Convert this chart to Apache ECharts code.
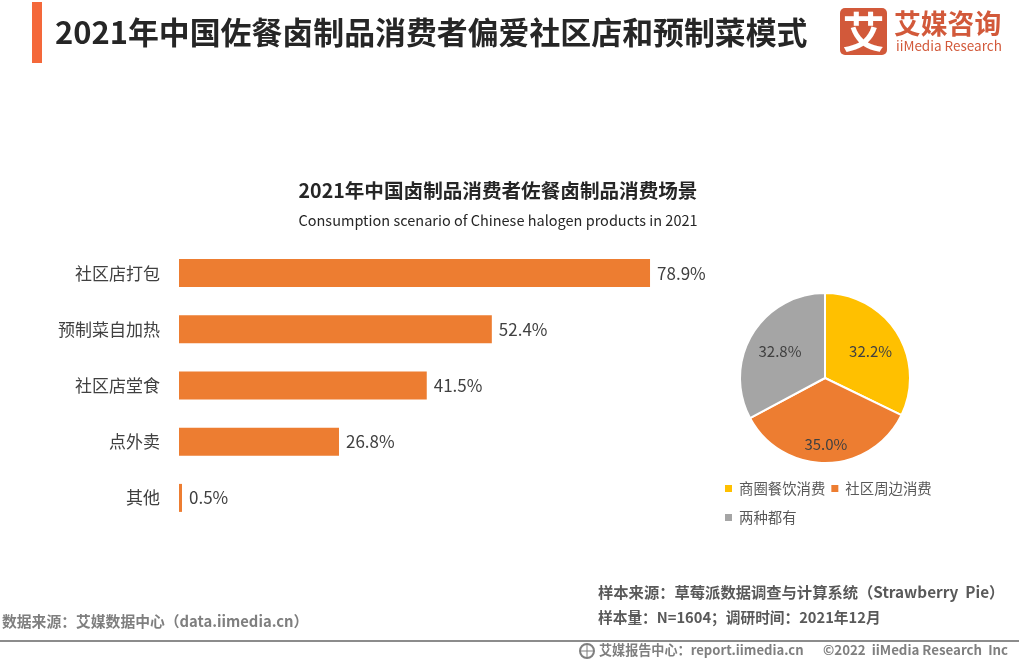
<!DOCTYPE html>
<html lang="zh">
<head>
<meta charset="UTF-8">
<title>2021年中国佐餐卤制品消费者偏爱社区店和预制菜模式</title>
<style>
  * { margin: 0; }
  html, body { height: 100%; background: #fff; }
  #chart { width: 1019px; height: 664px; }
</style>
<script src="https://cdn.jsdelivr.net/npm/echarts@6/dist/echarts.min.js"></script>
</head>
<body>
<div id="chart"></div>
<script>
const CN = '"Noto Sans CJK SC", sans-serif';

// bar chart
const sceneNames = ['社区店打包', '预制菜自加热', '社区店堂食', '点外卖', '其他'];
const sceneValues = [78.9, 52.4, 41.5, 26.8, 0.5];

// pie chart
const modeNames = ['商圈餐饮消费', '社区周边消费', '两种都有'];
const modeValues = [32.2, 35.0, 32.8];
const modeColors = ['#ffc000', '#ed7d31', '#a5a5a5'];
const modeLabelOffsets = [[7, -3], [0, 21], [-6, -3]];

function txt(x, y, text, size, color, weight, align) {
  return {
    type: 'text', x: x, y: y,
    style: { text: text, fontSize: size, fill: color, fontWeight: weight || 'normal', fontFamily: CN, align: align || 'left', verticalAlign: 'middle' }
  };
}

const chart = echarts.init(document.getElementById('chart'));
chart.setOption({
  animation: false,
  backgroundColor: '#fff',
  grid: { left: 179, top: 245, width: 597, height: 281 },
  xAxis: { type: 'value', min: 0, max: 100, show: false },
  yAxis: {
    type: 'category',
    data: sceneNames,
    inverse: true,
    axisLine: { show: false },
    axisTick: { show: false },
    axisLabel: { color: '#404040', fontSize: 17, fontFamily: CN, margin: 19 }
  },
  legend: {
    left: 718, top: 471, width: 240,
    data: modeNames,
    icon: 'rect',
    itemWidth: 9, itemHeight: 9, itemGap: 4,
    textStyle: { color: '#595959', fontSize: 14.4, fontFamily: CN, padding: [0, 0, 0, 1], lineHeight: 25 }
  },
  series: [
    {
      type: 'bar',
      data: sceneValues,
      barWidth: 28,
      itemStyle: { color: '#ed7d31' },
      label: {
        show: true, position: 'right', distance: 7,
        formatter: p => p.value.toFixed(1) + '%',
        color: '#404040', fontSize: 17, fontFamily: CN
      }
    },
    {
      type: 'pie',
      center: [825, 378],
      radius: [0, 85],
      startAngle: 90,
      clockwise: true,
      data: modeNames.map((n, i) => ({
        name: n, value: modeValues[i],
        itemStyle: { color: modeColors[i] },
        label: { offset: modeLabelOffsets[i] }
      })),
      itemStyle: { borderColor: '#fff', borderWidth: 2 },
      label: {
        position: 'inside',
        formatter: p => p.value.toFixed(1) + '%',
        color: '#404040', fontSize: 15, fontFamily: CN
      },
      labelLine: { show: false },
      emphasis: { disabled: true }
    }
  ],
  graphic: [
    // header
    { type: 'rect', shape: { x: 32, y: 2, width: 10, height: 61 }, style: { fill: '#f4683a' } },
    txt(55, 32, '2021年中国佐餐卤制品消费者偏爱社区店和预制菜模式', 30.9, '#262626', 'bold'),
    // logo
    { type: 'rect', shape: { x: 840, y: 8, width: 47, height: 47, r: 5 }, style: { fill: '#d2593a' } },
    txt(863.5, 32, '艾', 42, '#fff', 'bold', 'center'),
    txt(894, 24, '艾媒咨询', 26.8, '#d2593a', 'bold'),
    txt(896, 46, 'iiMedia Research', 13.5, '#d2593a'),
    // chart titles
    txt(498, 191, '2021年中国卤制品消费者佐餐卤制品消费场景', 19.6, '#262626', 'bold', 'center'),
    txt(498, 220, 'Consumption scenario of Chinese halogen products in 2021', 14.5, '#262626', 'normal', 'center'),
    // footer
    txt(2, 621, '数据来源：艾媒数据中心（data.iimedia.cn）', 14.8, '#7f7f7f', 'bold'),
    txt(598, 592, '样本来源：草莓派数据调查与计算系统（Strawberry  Pie）', 15.3, '#595959', 'bold'),
    txt(598, 617, '样本量：N=1604；调研时间：2021年12月', 14.7, '#595959', 'bold'),
    { type: 'rect', shape: { x: 0, y: 640, width: 1019, height: 2 }, style: { fill: '#8c8c8c' } },
    { type: 'circle', shape: { cx: 587, cy: 651, r: 7 }, style: { fill: 'none', stroke: '#7f7f7f', lineWidth: 2 } },
    { type: 'line', shape: { x1: 580, y1: 651, x2: 594, y2: 651 }, style: { stroke: '#7f7f7f', lineWidth: 1 } },
    { type: 'line', shape: { x1: 587, y1: 644, x2: 587, y2: 658 }, style: { stroke: '#7f7f7f', lineWidth: 1 } },
    txt(599, 650, '艾媒报告中心：report.iimedia.cn', 13.1, '#7f7f7f', 'bold'),
    txt(823, 650, '©2022  iiMedia Research  Inc', 13.3, '#7f7f7f', 'bold')
  ]
});
</script>
</body>
</html>
